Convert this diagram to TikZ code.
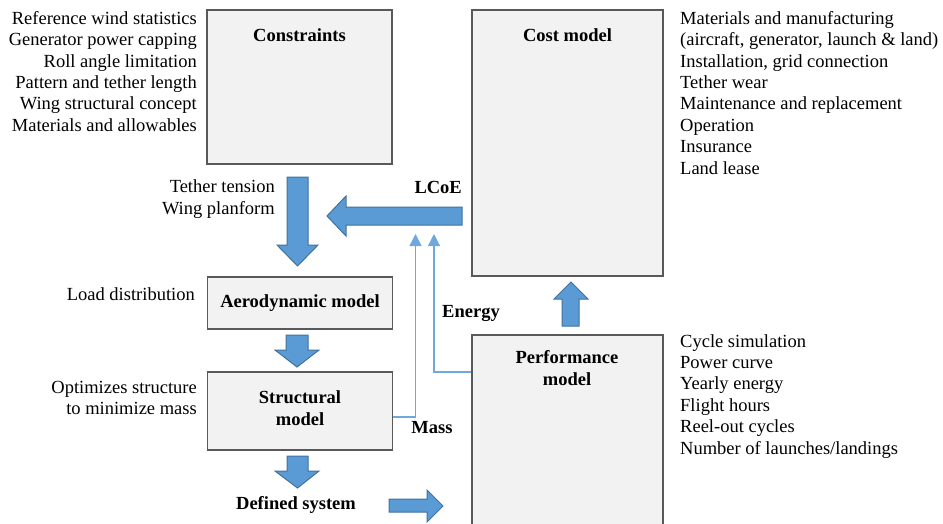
\documentclass[tikz,border=0pt]{standalone}
\usepackage{fontspec}
\setmainfont{Liberation Serif}
\newfontfamily\timesfont{Liberation Serif}
\usetikzlibrary{arrows.meta}
\definecolor{boxfill}{HTML}{F2F2F2}
\definecolor{boxline}{HTML}{595959}
\definecolor{arrfill}{HTML}{5B9BD5}
\definecolor{arrline}{HTML}{41719C}
\definecolor{thinline}{HTML}{6FA8DC}
\begin{document}
\begin{tikzpicture}[x=1pt,y=-1pt,
  font=\timesfont\fontsize{18.5}{21.4}\selectfont,
  modelbox/.style={draw=boxline,line width=1.1pt,fill=boxfill,inner sep=0pt},
  title/.style={font=\timesfont\fontsize{18.5}{21.4}\selectfont\bfseries,align=center,inner sep=0pt},
  listtxt/.style={inner sep=0pt},
  blk/.style={draw=arrline,line width=1pt,fill=arrfill,line join=miter},
  thin/.style={draw=thinline,line width=1.2pt,-{Triangle[width=12pt,length=12pt]}}]
\useasboundingbox (0,0) rectangle (943,523);
% boxes
\node[modelbox,minimum width=185pt,minimum height=154pt] (cons) at (299.5,87) {};
\node[modelbox,minimum width=191pt,minimum height=266pt] (cost) at (567.5,143) {};
\node[modelbox,minimum width=185pt,minimum height=52pt] (aero) at (300,303) {};
\node[modelbox,minimum width=185pt,minimum height=78pt] (struct) at (300,411) {};
\node[modelbox,minimum width=191pt,minimum height=200pt] (perf) at (567.5,435) {};
% titles
\node[title] (consT) at (299.5,35) {Constraints};
\node[title] (costT) at (567.5,35) {Cost model};
\node[title] (aeroT) at (300,303) {Aerodynamic model};
\node[title] (structT) at (300,408) {Structural\\model};
\node[title] (perfT) at (567,368) {Performance\\model};
% side lists
\node[listtxt,anchor=north east,align=right] (consL) at (197,11) {Reference wind statistics\\Generator power capping\\Roll angle limitation\\Pattern and tether length\\Wing structural concept\\Materials and allowables};
\node[listtxt,anchor=north west,align=left] (costL) at (680,11) {Materials and manufacturing\\(aircraft, generator, launch \& land)\\Installation, grid connection\\Tether wear\\Maintenance and replacement\\Operation\\Insurance\\Land lease};
\node[listtxt,anchor=north west,align=left] (perfL) at (680,334) {Cycle simulation\\Power curve\\Yearly energy\\Flight hours\\Reel-out cycles\\Number of launches/landings};
\node[listtxt,anchor=east,align=right] (tensL) at (275,199) {Tether tension\\Wing planform};
\node[listtxt,anchor=east] (loadL) at (195,294) {Load distribution};
\node[listtxt,anchor=east,align=right] (optL) at (197,398) {Optimizes structure\\to minimize mass};
% bold labels
\node[title,anchor=east] (lcoe) at (462,187) {LCoE};
\node[title] (energy) at (471,313) {Energy};
\node[title] (mass) at (432,428) {Mass};
\node[title] (defsys) at (296,505) {Defined system};
% block arrows
\draw[blk] (287,177) -- (308,177) -- (308,245) -- (318,245) -- (297.5,266) -- (277,245) -- (287,245) -- cycle;
\draw[blk] (462,207) -- (462,225) -- (346,225) -- (346,236) -- (327,216) -- (346,196) -- (346,207) -- cycle;
\draw[blk] (286,335) -- (308,335) -- (308,350) -- (319,350) -- (297,367) -- (275,350) -- (286,350) -- cycle;
\draw[blk] (287,456) -- (308,456) -- (308,471) -- (319,471) -- (297.5,488) -- (275,471) -- (287,471) -- cycle;
\draw[blk] (389,499) -- (427,499) -- (427,490) -- (443,506) -- (427,522) -- (427,512) -- (389,512) -- cycle;
\draw[blk] (562,326) -- (562,299) -- (554,299) -- (571,282) -- (588,299) -- (579,299) -- (579,326) -- cycle;
% thin feedback arrows
\coordinate (massTop) at (415.5,234);
\coordinate (energyTop) at (434,234);
\draw[thin] (struct.east |- 0,417) -| (massTop);
\draw[thin] (perf.west |- 0,372) -| (energyTop);
\end{tikzpicture}
\end{document}
